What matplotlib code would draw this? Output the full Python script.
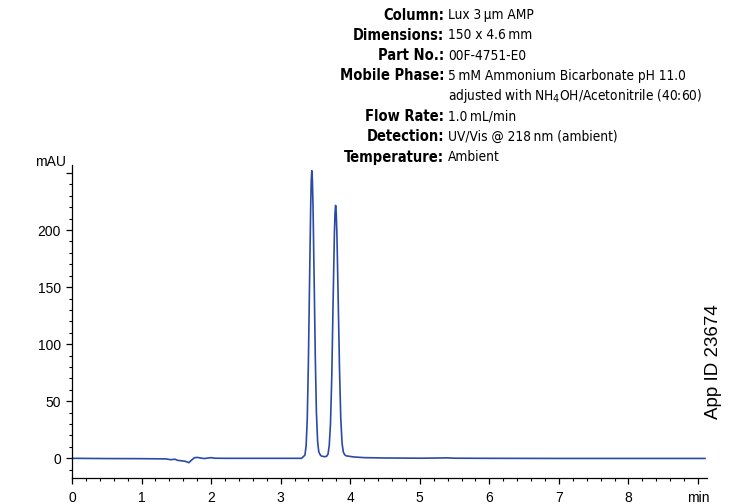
import matplotlib
matplotlib.use("Agg")
import matplotlib.pyplot as plt
from matplotlib import font_manager
from matplotlib.ticker import MultipleLocator, FixedLocator

# ---- data ----
time_min = [0.00, 0.50, 1.00, 1.35, 1.42, 1.48, 1.52, 1.58, 1.63, 1.68, 1.72, 1.76, 1.80,
            1.85, 1.90, 1.95, 2.00, 2.05, 2.20, 3.00, 3.30,
            3.349, 3.366, 3.382, 3.398, 3.415, 3.432, 3.440, 3.448, 3.456, 3.465, 3.481,
            3.498, 3.514, 3.531, 3.547, 3.564, 3.580, 3.600, 3.630, 3.660,
            3.680, 3.698, 3.716, 3.735, 3.753, 3.772, 3.781, 3.790, 3.799, 3.809, 3.827,
            3.846, 3.864, 3.883, 3.901, 3.920, 3.940, 4.050, 4.200, 4.500, 5.000, 5.300,
            5.400, 5.500, 6.000, 7.000, 8.000, 9.100]
signal_mau = [0.0, -0.2, -0.3, -0.5, -1.2, -0.8, -1.8, -2.2, -2.6, -3.8, -1.5, 0.5, 0.8,
              0.3, -0.2, 0.2, 0.6, 0.1, 0.0, 0.0, 0.0,
              2.8, 11.0, 34.0, 82.0, 153.0, 222.0, 244.0, 252.0, 244.0, 222.0, 158.0,
              88.0, 40.0, 15.0, 6.0, 3.5, 2.2, 1.8, 1.4, 1.8,
              3.5, 11.0, 30.0, 72.0, 134.5, 195.5, 214.7, 221.6, 214.7, 195.5, 139.0,
              78.0, 35.0, 13.0, 5.5, 3.2, 2.2, 1.2, 0.6, 0.3, 0.1, 0.3,
              0.4, 0.1, 0.0, -0.1, -0.1, -0.1]

x_ticks = [0, 1, 2, 3, 4, 5, 6, 7, 8, 9]
x_tick_labels = ["0", "1", "2", "3", "4", "5", "6", "7", "8", "min"]
y_ticks = [0, 50, 100, 150, 200, 250]
y_tick_labels = ["0", "50", "100", "150", "200", ""]

info_labels = ["Column:", "Dimensions:", "Part No.:", "Mobile Phase:", "",
               "Flow Rate:", "Detection:", "Temperature:"]
info_values = ["Lux 3\u2009\u00b5m AMP", "150 x 4.6\u2009mm", "00F-4751-E0",
               "5\u2009mM Ammonium Bicarbonate pH 11.0",
               "adjusted with NH$_4$OH/Acetonitrile (40:60)",
               "1.0\u2009mL/min", "UV/Vis @ 218\u2009nm (ambient)", "Ambient"]

# ---- fonts: look for a condensed / narrow face ----
reg_file, bold_file = None, None
prefs = ["LiberationSansNarrow", "DejaVuSansCondensed", "OpenSans_Condensed",
         "OpenSansCondensed", "Roboto_Condensed", "RobotoCondensed", "NotoSans-Condensed",
         "NotoSansCondensed"]
files = [f.fname for f in font_manager.fontManager.ttflist]
for p in prefs:
    cands = [f for f in files if p.lower() in f.replace(" ", "").lower()]
    r = [f for f in cands if ("bold" not in f.lower() and "italic" not in f.lower()
                              and "oblique" not in f.lower() and "light" not in f.lower()
                              and "semi" not in f.lower() and "medium" not in f.lower()
                              and "black" not in f.lower() and "thin" not in f.lower()
                              and "extra" not in f.lower())]
    b = [f for f in cands if ("bold" in f.lower() and "italic" not in f.lower()
                              and "oblique" not in f.lower() and "semi" not in f.lower()
                              and "extra" not in f.lower())]
    if r and b:
        reg_file, bold_file = sorted(r, key=len)[0], sorted(b, key=len)[0]
        break

if reg_file:
    fp_reg = font_manager.FontProperties(fname=reg_file, size=9.8)
    fp_bold = font_manager.FontProperties(fname=bold_file, size=10.5)
    narrow_name = font_manager.FontProperties(fname=reg_file).get_name()
else:
    fp_reg = font_manager.FontProperties(family="Liberation Sans", size=9.2)
    fp_bold = font_manager.FontProperties(family="Liberation Sans", weight="bold", size=9.2)
    narrow_name = "Liberation Sans"

plt.rcParams['font.family'] = ['Liberation Sans', 'DejaVu Sans']
plt.rcParams['mathtext.fontset'] = 'custom'
plt.rcParams['mathtext.rm'] = narrow_name
plt.rcParams['mathtext.it'] = narrow_name

fig = plt.figure(figsize=(7.53, 5.04), dpi=100)
ax = fig.add_axes([0.0956, 0.051, 0.8434, 0.6216])

ax.plot(time_min, signal_mau, color="#2b4aa6", lw=1.2)

ax.set_xlim(0, 9.13)
ax.set_ylim(-17.5, 257)
for s in ["top", "right"]:
    ax.spines[s].set_visible(False)
for s in ["left", "bottom"]:
    ax.spines[s].set_linewidth(0.9)

ax.xaxis.set_major_locator(FixedLocator(x_ticks))
ax.set_xticklabels(x_tick_labels)
ax.xaxis.set_minor_locator(MultipleLocator(0.2))
ax.yaxis.set_major_locator(FixedLocator(y_ticks))
ax.set_yticklabels(y_tick_labels)
ax.yaxis.set_minor_locator(MultipleLocator(10))
ax.tick_params(axis="both", which="major", length=4, width=0.9, labelsize=10, direction="out")
ax.tick_params(axis="both", which="minor", length=2.5, width=0.8, direction="out")
ax.tick_params(axis="x", pad=5)
ax.tick_params(axis="y", pad=4)

fig.text(66 / 753, 1 - 162 / 504, "mAU", ha="right", va="center", fontsize=10)

# info block
y0 = 15
dy = 20.3
for i, (lab, val) in enumerate(zip(info_labels, info_values)):
    yy = 1 - (y0 + i * dy) / 504
    if lab:
        fig.text(444 / 753, yy, lab, ha="right", va="center", fontproperties=fp_bold)
    fig.text(448 / 753, yy, val, ha="left", va="center", fontproperties=fp_reg)

fig.text(713 / 753, 1 - 362 / 504, "App ID 23674", rotation=90, ha="center", va="center",
         fontsize=13.5)

fig.savefig("out.png", dpi=100)
